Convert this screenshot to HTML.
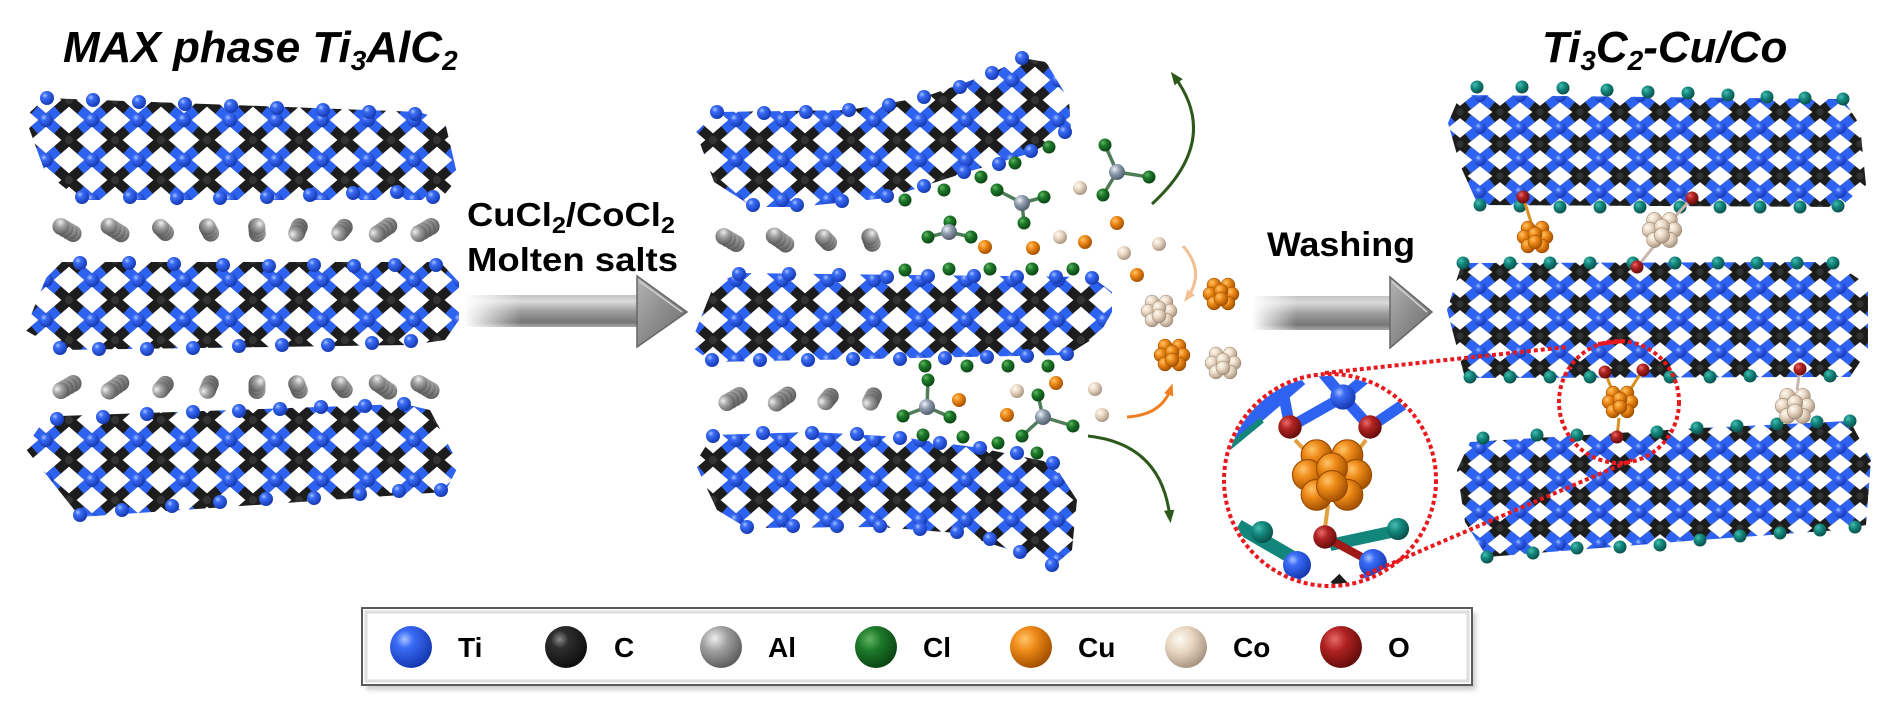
<!DOCTYPE html>
<html><head><meta charset="utf-8">
<style>html,body{margin:0;padding:0;background:#fff;width:1890px;height:711px;overflow:hidden}svg{display:block}</style>
</head><body>
<svg xmlns="http://www.w3.org/2000/svg" width="1890" height="711" viewBox="0 0 1890 711">
<defs>
<radialGradient id="gTi" cx="0.35" cy="0.32" r="0.7"><stop offset="0" stop-color="#a8c2ff"/><stop offset="0.3" stop-color="#3a6cf6"/><stop offset="1" stop-color="#1538b0"/></radialGradient>
<radialGradient id="gC" cx="0.35" cy="0.32" r="0.7"><stop offset="0" stop-color="#8a8a8a"/><stop offset="0.3" stop-color="#2e2e2e"/><stop offset="1" stop-color="#0e0e0e"/></radialGradient>
<radialGradient id="gAl" cx="0.35" cy="0.3" r="0.75"><stop offset="0" stop-color="#eeeeee"/><stop offset="0.4" stop-color="#a0a0a0"/><stop offset="1" stop-color="#585858"/></radialGradient>
<radialGradient id="gCl" cx="0.35" cy="0.32" r="0.7"><stop offset="0" stop-color="#62b462"/><stop offset="0.4" stop-color="#1d7a2a"/><stop offset="1" stop-color="#0b4513"/></radialGradient>
<radialGradient id="gCu" cx="0.35" cy="0.32" r="0.7"><stop offset="0" stop-color="#ffc46a"/><stop offset="0.4" stop-color="#ee8a18"/><stop offset="1" stop-color="#a35000"/></radialGradient>
<radialGradient id="gCo" cx="0.35" cy="0.32" r="0.7"><stop offset="0" stop-color="#fffaf2"/><stop offset="0.45" stop-color="#e8d6c2"/><stop offset="1" stop-color="#a89482"/></radialGradient>
<radialGradient id="gO" cx="0.35" cy="0.32" r="0.7"><stop offset="0" stop-color="#e86a6a"/><stop offset="0.4" stop-color="#b02222"/><stop offset="1" stop-color="#650c0c"/></radialGradient>
<radialGradient id="gTeal" cx="0.35" cy="0.32" r="0.7"><stop offset="0" stop-color="#48bcb2"/><stop offset="0.45" stop-color="#13867c"/><stop offset="1" stop-color="#0a504a"/></radialGradient>
<radialGradient id="gAlCl" cx="0.35" cy="0.32" r="0.7"><stop offset="0" stop-color="#eef2f8"/><stop offset="0.45" stop-color="#8d9bad"/><stop offset="1" stop-color="#525d6b"/></radialGradient>

<pattern id="pL" width="46" height="40" patternUnits="userSpaceOnUse">
<g fill="none" stroke-width="10">
<path stroke="#1d1d1d" d="M0,0 L46,40 M46,0 L0,40"/>
<path stroke="#2e62f0" d="M0,0 L11.5,10 M46,0 L34.5,10 M0,40 L11.5,30 M46,40 L34.5,30"/>
</g>
<circle cx="0" cy="0" r="7" fill="url(#gTi)"/><circle cx="46" cy="0" r="7" fill="url(#gTi)"/>
<circle cx="0" cy="40" r="7" fill="url(#gTi)"/><circle cx="46" cy="40" r="7" fill="url(#gTi)"/>
<circle cx="23" cy="20" r="4" fill="#333"/>
</pattern>
<pattern id="pR" width="40" height="32" patternUnits="userSpaceOnUse">
<g fill="none" stroke-width="9.5">
<path stroke="#1d1d1d" d="M0,0 L40,32 M40,0 L0,32"/>
<path stroke="#2e62f0" d="M0,0 L12,9.6 M40,0 L28,9.6 M0,32 L12,22.4 M40,32 L28,22.4"/>
</g>
<circle cx="0" cy="0" r="6" fill="url(#gTi)"/><circle cx="40" cy="0" r="6" fill="url(#gTi)"/>
<circle cx="0" cy="32" r="6" fill="url(#gTi)"/><circle cx="40" cy="32" r="6" fill="url(#gTi)"/>
<circle cx="20" cy="16" r="3.5" fill="#333"/>
</pattern>

<circle id="ti" r="7" fill="url(#gTi)"/>
<circle id="te" r="6.5" fill="url(#gTeal)"/>
<circle id="cl" r="6.5" fill="url(#gCl)"/>
<circle id="cu" r="7" fill="url(#gCu)"/>
<circle id="co" r="7" fill="url(#gCo)"/>
<circle id="ox" r="6.5" fill="url(#gO)"/>
<g id="al3" fill="url(#gAl)"><circle cx="7" cy="0" r="8.5"/><circle cx="2.5" cy="0" r="8.5"/><circle cx="-2.5" cy="0" r="8.5"/><circle cx="-7" cy="0" r="8.5"/></g>
<g id="al2" fill="url(#gAl)"><circle cx="3.5" cy="0" r="8.5"/><circle cx="0" cy="0" r="8.5"/><circle cx="-3.5" cy="0" r="8.5"/></g>

<g id="cuC" stroke="#9a4a00" stroke-width="0.5" fill="url(#gCu)">
<circle cx="-7" cy="-9" r="7"/><circle cx="7" cy="-9" r="7"/><circle cx="-11" cy="0" r="7"/><circle cx="11" cy="0" r="7"/>
<circle cx="-7" cy="9" r="7"/><circle cx="7" cy="9" r="7"/><circle cx="0" cy="-3" r="7"/><circle cx="0" cy="5" r="7"/>
</g>
<g id="coC" stroke="#9a8570" stroke-width="0.5" fill="url(#gCo)">
<circle cx="-7" cy="-9" r="7"/><circle cx="7" cy="-9" r="7"/><circle cx="-11" cy="0" r="7"/><circle cx="11" cy="0" r="7"/>
<circle cx="-7" cy="9" r="7"/><circle cx="7" cy="9" r="7"/><circle cx="0" cy="-3" r="7"/><circle cx="0" cy="5" r="7"/>
</g>

<linearGradient id="gShaft" x1="0" y1="0" x2="0" y2="1">
<stop offset="0" stop-color="#c4c4c4"/><stop offset="0.2" stop-color="#dadada"/><stop offset="0.5" stop-color="#a0a0a0"/><stop offset="0.85" stop-color="#767676"/><stop offset="1" stop-color="#a8a8a8"/>
</linearGradient>
<linearGradient id="gHead" x1="0" y1="0" x2="1" y2="1">
<stop offset="0" stop-color="#b4b4b4"/><stop offset="0.5" stop-color="#8c8c8c"/><stop offset="1" stop-color="#6a6a6a"/>
</linearGradient>
<linearGradient id="fade" x1="0" y1="0" x2="1" y2="0">
<stop offset="0" stop-color="#fff" stop-opacity="0"/><stop offset="0.3" stop-color="#fff" stop-opacity="1"/><stop offset="1" stop-color="#fff" stop-opacity="1"/>
</linearGradient>
<mask id="m1" maskUnits="userSpaceOnUse" x="0" y="0" width="1890" height="711"><rect x="464" y="285" width="190" height="60" fill="url(#fade)"/></mask>
<mask id="m2" maskUnits="userSpaceOnUse" x="0" y="0" width="1890" height="711"><rect x="1252" y="288" width="148" height="50" fill="url(#fade)"/></mask>

<marker id="mGreen" viewBox="0 0 10 10" refX="6" refY="5" markerWidth="13" markerHeight="13" orient="auto" markerUnits="userSpaceOnUse"><path d="M0,1 L10,5 L0,9 z" fill="#2d5a1c"/></marker>
<marker id="mPeach" viewBox="0 0 10 10" refX="6" refY="5" markerWidth="12" markerHeight="12" orient="auto" markerUnits="userSpaceOnUse"><path d="M0,1 L10,5 L0,9 z" fill="#f2be92"/></marker>
<marker id="mOrange" viewBox="0 0 10 10" refX="6" refY="5" markerWidth="12" markerHeight="12" orient="auto" markerUnits="userSpaceOnUse"><path d="M0,1 L10,5 L0,9 z" fill="#ee7f22"/></marker>

<clipPath id="lensClip"><circle cx="1330" cy="480" r="104"/></clipPath>
<filter id="blur" x="-5%" y="-20%" width="110%" height="140%"><feGaussianBlur stdDeviation="2.5"/></filter>
</defs>

<rect width="1890" height="711" fill="#fff"/>

<!-- ===== LEFT GROUP ===== -->
<path d="M25,117 L45,98 L420,112 L445,122 L458,178 L440,200 L80,200 L45,172 Z" fill="url(#pL)"/>
<path d="M46,278 L62,262 L440,262 L459,282 L459,320 L445,340 L411,345 L60,350 L25,330 Z" fill="url(#pL)"/>
<path d="M44,420 L60,416 L404,404 L430,410 L459,465 L445,492 L80,517 L25,448 Z" fill="url(#pL)"/>
<g>
<use href="#ti" x="47" y="98"/><use href="#ti" x="93" y="100"/><use href="#ti" x="139" y="102"/><use href="#ti" x="185" y="104"/><use href="#ti" x="231" y="106"/><use href="#ti" x="277" y="108"/><use href="#ti" x="323" y="110"/><use href="#ti" x="369" y="112"/><use href="#ti" x="415" y="114"/>
<use href="#ti" x="82" y="197"/><use href="#ti" x="130" y="197"/><use href="#ti" x="177" y="198"/><use href="#ti" x="220" y="198"/><use href="#ti" x="267" y="197"/><use href="#ti" x="310" y="195"/><use href="#ti" x="353" y="193"/><use href="#ti" x="397" y="192"/><use href="#ti" x="433" y="197"/>
<use href="#ti" x="80" y="263"/><use href="#ti" x="129" y="263"/><use href="#ti" x="174" y="264"/><use href="#ti" x="223" y="265"/><use href="#ti" x="269" y="266"/><use href="#ti" x="314" y="265"/><use href="#ti" x="354" y="266"/><use href="#ti" x="395" y="265"/><use href="#ti" x="436" y="265"/>
<use href="#ti" x="60" y="348"/><use href="#ti" x="99" y="349"/><use href="#ti" x="147" y="349"/><use href="#ti" x="193" y="348"/><use href="#ti" x="239" y="346"/><use href="#ti" x="282" y="345"/><use href="#ti" x="328" y="345"/><use href="#ti" x="372" y="343"/><use href="#ti" x="411" y="341"/>
<use href="#ti" x="57" y="419"/><use href="#ti" x="103" y="417"/><use href="#ti" x="147" y="414"/><use href="#ti" x="193" y="412"/><use href="#ti" x="239" y="411"/><use href="#ti" x="280" y="409"/><use href="#ti" x="321" y="407"/><use href="#ti" x="365" y="406"/><use href="#ti" x="404" y="404"/>
<use href="#ti" x="80" y="515"/><use href="#ti" x="122" y="510"/><use href="#ti" x="172" y="506"/><use href="#ti" x="220" y="502"/><use href="#ti" x="266" y="499"/><use href="#ti" x="314" y="498"/><use href="#ti" x="360" y="494"/><use href="#ti" x="399" y="491"/><use href="#ti" x="441" y="490"/>
</g>
<!-- Al rows -->
<g>
<use href="#al3" transform="translate(67,230) rotate(30)"/>
<use href="#al3" transform="translate(115,230) rotate(32)"/>
<use href="#al2" transform="translate(163,230) rotate(45)"/>
<use href="#al2" transform="translate(209,230) rotate(62)"/>
<use href="#al2" transform="translate(257,230) rotate(85)"/>
<use href="#al2" transform="translate(298,230) rotate(-68)"/>
<use href="#al2" transform="translate(342,230) rotate(-50)"/>
<use href="#al3" transform="translate(383,230) rotate(-35)"/>
<use href="#al3" transform="translate(425,230) rotate(-30)"/>
<use href="#al3" transform="translate(67,387) rotate(-30)"/>
<use href="#al3" transform="translate(115,387) rotate(-35)"/>
<use href="#al2" transform="translate(163,387) rotate(-50)"/>
<use href="#al2" transform="translate(209,387) rotate(-68)"/>
<use href="#al2" transform="translate(257,387) rotate(90)"/>
<use href="#al2" transform="translate(298,387) rotate(68)"/>
<use href="#al2" transform="translate(342,387) rotate(50)"/>
<use href="#al3" transform="translate(383,387) rotate(35)"/>
<use href="#al3" transform="translate(425,387) rotate(30)"/>
<use href="#al3" transform="translate(730,240) rotate(30)"/>
<use href="#al3" transform="translate(780,240) rotate(35)"/>
<use href="#al2" transform="translate(826,240) rotate(45)"/>
<use href="#al2" transform="translate(871,240) rotate(70)"/>
<use href="#al3" transform="translate(733,399) rotate(-30)"/>
<use href="#al3" transform="translate(782,399) rotate(-35)"/>
<use href="#al2" transform="translate(828,399) rotate(-50)"/>
<use href="#al2" transform="translate(872,399) rotate(-65)"/>
</g>

<!-- Title left -->
<text x="63" y="62" font-family="'Liberation Sans', Arial, sans-serif" font-weight="bold" font-style="italic" font-size="44" fill="#000">MAX phase Ti<tspan font-size="28" dy="8">3</tspan><tspan dy="-8">AlC</tspan><tspan font-size="28" dy="8">2</tspan></text>

<!-- Arrow 1 -->
<text x="467" y="226" font-family="'Liberation Sans', Arial, sans-serif" font-weight="bold" font-size="33" fill="#000" textLength="208" lengthAdjust="spacingAndGlyphs">CuCl<tspan font-size="23" dy="7">2</tspan><tspan dy="-7">/CoCl</tspan><tspan font-size="23" dy="7">2</tspan></text>
<text x="467" y="271" font-family="'Liberation Sans', Arial, sans-serif" font-weight="bold" font-size="33" fill="#000" textLength="211" lengthAdjust="spacingAndGlyphs">Molten salts</text>
<g mask="url(#m1)"><rect x="464" y="295" width="175" height="32" fill="url(#gShaft)"/></g>
<path d="M637,276 L687,312 L637,347 Z" fill="url(#gHead)" stroke="#666" stroke-width="1.5"/>
<path d="M639,281 L682,312" stroke="#d0d0d0" stroke-width="1.5"/>

<!-- ===== MIDDLE GROUP ===== -->
<path d="M696,132 L717,112 L849,110 L924,97 L992,73 L1022,58 L1046,62 L1069,100 L1071,130 L1031,153 L964,173 L887,198 L797,207 L753,207 L714,182 Z" fill="url(#pL)"/>
<path d="M692,340 L714,285 L739,273 L1092,277 L1112,292 L1112,312 L1099,335 L1067,355 L712,362 L693,348 Z" fill="url(#pL)"/>
<path d="M695,463 L713,435 L812,432 L900,437 L980,448 L1053,463 L1077,500 L1072,550 L1052,567 L1020,553 L957,533 L880,527 L747,528 L717,510 Z" fill="url(#pL)"/>
<g>
<use href="#ti" x="717" y="112"/><use href="#ti" x="764" y="113"/><use href="#ti" x="806" y="112"/><use href="#ti" x="849" y="110"/><use href="#ti" x="889" y="105"/><use href="#ti" x="924" y="97"/><use href="#ti" x="960" y="87"/><use href="#ti" x="992" y="73"/><use href="#ti" x="1022" y="58"/>
<use href="#ti" x="753" y="205"/><use href="#ti" x="797" y="205"/><use href="#ti" x="842" y="201"/><use href="#ti" x="887" y="196"/><use href="#ti" x="924" y="186"/><use href="#ti" x="964" y="172"/><use href="#ti" x="999" y="164"/><use href="#ti" x="1031" y="151"/><use href="#ti" x="1065" y="132"/>
<use href="#ti" x="739" y="274"/><use href="#ti" x="789" y="274"/><use href="#ti" x="839" y="275"/><use href="#ti" x="887" y="277"/><use href="#ti" x="928" y="276"/><use href="#ti" x="974" y="276"/><use href="#ti" x="1017" y="277"/><use href="#ti" x="1056" y="277"/><use href="#ti" x="1092" y="278"/>
<use href="#ti" x="712" y="360"/><use href="#ti" x="760" y="360"/><use href="#ti" x="808" y="360"/><use href="#ti" x="853" y="359"/><use href="#ti" x="900" y="359"/><use href="#ti" x="945" y="358"/><use href="#ti" x="987" y="357"/><use href="#ti" x="1027" y="356"/><use href="#ti" x="1067" y="354"/>
<use href="#ti" x="713" y="436"/><use href="#ti" x="763" y="433"/><use href="#ti" x="812" y="433"/><use href="#ti" x="857" y="434"/><use href="#ti" x="900" y="438"/><use href="#ti" x="940" y="443"/><use href="#ti" x="980" y="448"/><use href="#ti" x="1017" y="453"/><use href="#ti" x="1053" y="463"/>
<use href="#ti" x="747" y="527"/><use href="#ti" x="793" y="526"/><use href="#ti" x="837" y="526"/><use href="#ti" x="880" y="526"/><use href="#ti" x="920" y="529"/><use href="#ti" x="957" y="532"/><use href="#ti" x="990" y="539"/><use href="#ti" x="1020" y="552"/><use href="#ti" x="1052" y="565"/>
</g>

<!-- AlCl4 molecules -->
<g stroke="#4f7d58" stroke-width="3.5">
<path d="M949,232 L928,237 M949,232 L971,237 M949,232 L950,222"/>
<path d="M1022,203 L997,190 M1022,203 L1044,197 M1022,203 L1024,223"/>
<path d="M1117,172 L1105,145 M1117,172 L1103,195 M1117,172 L1149,177"/>
<path d="M927,407 L928,380 M927,407 L903,416 M927,407 L950,417"/>
<path d="M1043,417 L1038,395 M1043,417 L1073,426 M1043,417 L1022,436"/>
</g>
<g>
<use href="#cl" x="950" y="222"/><use href="#cl" x="928" y="237"/><use href="#cl" x="971" y="237"/>
<use href="#cl" x="997" y="190"/><use href="#cl" x="1044" y="197"/><use href="#cl" x="1024" y="223"/>
<use href="#cl" x="1105" y="145"/><use href="#cl" x="1103" y="195"/><use href="#cl" x="1149" y="177"/>
<use href="#cl" x="928" y="380"/><use href="#cl" x="903" y="416"/><use href="#cl" x="950" y="417"/>
<use href="#cl" x="1038" y="395"/><use href="#cl" x="1073" y="426"/><use href="#cl" x="1022" y="436"/>
</g>
<g fill="url(#gAlCl)">
<circle cx="949" cy="232" r="8"/><circle cx="1022" cy="203" r="8"/><circle cx="1117" cy="172" r="8"/><circle cx="927" cy="407" r="8"/><circle cx="1043" cy="417" r="8"/>
</g>
<!-- free Cl -->
<g>
<use href="#cl" x="905" y="200"/><use href="#cl" x="944" y="190"/><use href="#cl" x="981" y="177"/><use href="#cl" x="1015" y="163"/><use href="#cl" x="1049" y="147"/>
<use href="#cl" x="905" y="270"/><use href="#cl" x="949" y="269"/><use href="#cl" x="990" y="269"/><use href="#cl" x="1032" y="269"/><use href="#cl" x="1073" y="269"/>
<use href="#cl" x="925" y="366"/><use href="#cl" x="967" y="366"/><use href="#cl" x="1008" y="366"/><use href="#cl" x="1048" y="366"/>
<use href="#cl" x="923" y="435"/><use href="#cl" x="963" y="437"/><use href="#cl" x="998" y="443"/><use href="#cl" x="1037" y="453"/>
</g>
<!-- free Cu / Co -->
<g>
<use href="#cu" x="985" y="247"/><use href="#cu" x="1033" y="248"/><use href="#cu" x="1085" y="242"/><use href="#cu" x="1117" y="223"/><use href="#cu" x="1137" y="275"/>
<use href="#cu" x="959" y="400"/><use href="#cu" x="1056" y="383"/><use href="#cu" x="1007" y="415"/>
<use href="#co" x="1080" y="188"/><use href="#co" x="1060" y="237"/><use href="#co" x="1124" y="253"/><use href="#co" x="1159" y="244"/>
<use href="#co" x="1017" y="391"/><use href="#co" x="1095" y="389"/><use href="#co" x="1102" y="415"/>
</g>
<!-- clusters middle -->
<use href="#cuC" transform="translate(1221,294)"/>
<use href="#coC" transform="translate(1159,311)"/>
<use href="#cuC" transform="translate(1172,355)"/>
<use href="#coC" transform="translate(1223,363)"/>

<!-- curved arrows -->
<path d="M1152,204 Q1222,140 1174,76" fill="none" stroke="#2d5a1c" stroke-width="3" marker-end="url(#mGreen)"/>
<path d="M1183,246 Q1206,272 1187,298" fill="none" stroke="#f2be92" stroke-width="3" marker-end="url(#mPeach)"/>
<path d="M1127,417 Q1162,415 1171,388" fill="none" stroke="#ee7f22" stroke-width="3" marker-end="url(#mOrange)"/>
<path d="M1088,436 Q1162,444 1170,518" fill="none" stroke="#2d5a1c" stroke-width="3" marker-end="url(#mGreen)"/>

<!-- Washing arrow -->
<text x="1267" y="256" font-family="'Liberation Sans', Arial, sans-serif" font-weight="bold" font-size="34" fill="#000" textLength="148" lengthAdjust="spacingAndGlyphs">Washing</text>
<g mask="url(#m2)"><rect x="1252" y="296" width="142" height="34" fill="url(#gShaft)"/></g>
<path d="M1390,277 L1432,312 L1390,348 Z" fill="url(#gHead)" stroke="#666" stroke-width="1.5"/>
<path d="M1392,282 L1427,312" stroke="#d0d0d0" stroke-width="1.5"/>

<!-- ===== RIGHT GROUP ===== -->
<text x="1542" y="62" font-family="'Liberation Sans', Arial, sans-serif" font-weight="bold" font-style="italic" font-size="44" fill="#000">Ti<tspan font-size="28" dy="8">3</tspan><tspan dy="-8">C</tspan><tspan font-size="28" dy="8">2</tspan><tspan dy="-8">-Cu/Co</tspan></text>

<path d="M1448,123 L1460,95 L1843,99 L1860,125 L1866,185 L1840,207 L1478,205 L1460,165 Z" fill="url(#pR)"/>
<path d="M1447,310 L1462,263 L1833,262 L1868,285 L1868,350 L1850,377 L1465,378 Z" fill="url(#pR)"/>
<path d="M1457,470 L1470,442 L1700,428 L1850,421 L1871,460 L1866,525 L1840,530 L1700,540 L1487,557 L1465,522 Z" fill="url(#pR)"/>
<g>
<use href="#te" x="1477" y="87"/><use href="#te" x="1522" y="87"/><use href="#te" x="1563" y="88"/><use href="#te" x="1607" y="90"/><use href="#te" x="1648" y="92"/><use href="#te" x="1688" y="93"/><use href="#te" x="1728" y="95"/><use href="#te" x="1767" y="97"/><use href="#te" x="1805" y="98"/><use href="#te" x="1843" y="99"/>
<use href="#te" x="1480" y="205"/><use href="#te" x="1520" y="206"/><use href="#te" x="1560" y="207"/><use href="#te" x="1600" y="207"/><use href="#te" x="1640" y="207"/><use href="#te" x="1680" y="207"/><use href="#te" x="1720" y="207"/><use href="#te" x="1760" y="207"/><use href="#te" x="1800" y="207"/><use href="#te" x="1838" y="206"/>
<use href="#te" x="1463" y="263"/><use href="#te" x="1510" y="263"/><use href="#te" x="1550" y="263"/><use href="#te" x="1590" y="263"/><use href="#te" x="1633" y="263"/><use href="#te" x="1675" y="263"/><use href="#te" x="1718" y="263"/><use href="#te" x="1757" y="263"/><use href="#te" x="1797" y="263"/><use href="#te" x="1833" y="263"/>
<use href="#te" x="1470" y="377"/><use href="#te" x="1510" y="377"/><use href="#te" x="1550" y="377"/><use href="#te" x="1590" y="377"/><use href="#te" x="1670" y="377"/><use href="#te" x="1710" y="377"/><use href="#te" x="1750" y="376"/><use href="#te" x="1830" y="376"/>
<use href="#te" x="1483" y="438"/><use href="#te" x="1537" y="435"/><use href="#te" x="1577" y="435"/><use href="#te" x="1657" y="432"/><use href="#te" x="1697" y="428"/><use href="#te" x="1737" y="426"/><use href="#te" x="1777" y="424"/><use href="#te" x="1817" y="422"/><use href="#te" x="1850" y="421"/>
<use href="#te" x="1487" y="557"/><use href="#te" x="1533" y="553"/><use href="#te" x="1577" y="548"/><use href="#te" x="1620" y="547"/><use href="#te" x="1660" y="545"/><use href="#te" x="1700" y="540"/><use href="#te" x="1740" y="536"/><use href="#te" x="1780" y="533"/><use href="#te" x="1820" y="530"/><use href="#te" x="1855" y="527"/>
</g>
<!-- O bonds and clusters right -->
<g stroke-width="3">
<path d="M1523,197 L1531,222" stroke="#d89020"/>
<path d="M1692,198 L1672,220" stroke="#c8b4ac"/>
<path d="M1637,267 L1655,245" stroke="#c8b8b0"/>
<path d="M1605,372 L1612,390 M1643,370 L1630,390" stroke="#d89020"/>
<path d="M1617,437 L1619,418" stroke="#d89020"/>
<path d="M1800,369 L1797,390" stroke="#c8b8b0"/>
</g>
<use href="#cuC" transform="translate(1535,237)"/>
<use href="#coC" transform="translate(1662,230) scale(1.1)"/>
<use href="#cuC" transform="translate(1620,402)"/>
<use href="#coC" transform="translate(1795,406) scale(1.1)"/>
<g>
<use href="#ox" x="1523" y="197"/><use href="#ox" x="1692" y="198"/><use href="#ox" x="1637" y="267"/>
<use href="#ox" x="1605" y="372"/><use href="#ox" x="1643" y="370"/><use href="#ox" x="1617" y="437"/><use href="#ox" x="1800" y="369"/>
</g>

<!-- Lens -->
<circle cx="1330" cy="480" r="104" fill="#fff"/>
<g clip-path="url(#lensClip)">
<path d="M1222,445 L1300,378" stroke="#2e62f0" stroke-width="16"/>
<path d="M1228,448 L1262,420" stroke="#13867c" stroke-width="6"/>
<path d="M1300,372 L1322,372" stroke="#1d1d1d" stroke-width="10"/>
<g stroke="#2e62f0" stroke-width="11">
<path d="M1290,427 L1283,392"/>
<path d="M1343,397 L1290,427"/>
<path d="M1343,397 L1370,427"/>
<path d="M1343,397 L1322,372"/>
<path d="M1343,397 L1368,376"/>
<path d="M1370,427 L1410,400"/>
</g>
<use href="#ti" transform="translate(1343,397) scale(1.8)"/>
<use href="#ox" transform="translate(1290,427) scale(1.8)"/>
<use href="#ox" transform="translate(1370,427) scale(1.8)"/>
<path d="M1295,440 L1312,458 M1366,440 L1352,458 M1328,505 L1325,528" stroke="#e0a040" stroke-width="4"/>
<use href="#cuC" transform="translate(1332,475) scale(2.2)"/>
<path d="M1238,526 L1300,562" stroke="#13867c" stroke-width="14"/>
<path d="M1330,545 L1400,530" stroke="#13867c" stroke-width="12"/>
<path d="M1297,565 L1290,600 M1373,563 L1365,600" stroke="#2e62f0" stroke-width="14"/>
<path d="M1335,578 L1352,596" stroke="#1d1d1d" stroke-width="12"/>
<path d="M1325,537 L1373,563" stroke="#a01818" stroke-width="8"/>
<use href="#te" transform="translate(1262,532) scale(1.7)"/>
<use href="#te" transform="translate(1398,529) scale(1.7)"/>
<use href="#ox" transform="translate(1325,537) scale(1.8)"/>
<use href="#ti" transform="translate(1297,565) scale(2)"/>
<use href="#ti" transform="translate(1373,563) scale(2)"/>
</g>
<g fill="none" stroke="#e8191e" stroke-width="4" stroke-dasharray="4 3">
<circle cx="1330" cy="480" r="106"/>
<ellipse cx="1619" cy="402" rx="60" ry="61"/>
<path d="M1325,373 L1567,347"/>
<path d="M1360,577 L1632,460"/>
</g>
<path d="M1598,344 L1624,341" stroke="#e8191e" stroke-width="4"/>

<!-- ===== LEGEND ===== -->
<rect x="366" y="613" width="1110" height="77" fill="#cfcfcf" filter="url(#blur)"/>
<rect x="362" y="608" width="1110" height="77" fill="#fff" stroke="#5a5a5a" stroke-width="2"/>
<rect x="366" y="612" width="1102" height="69" fill="none" stroke="#dedede" stroke-width="3"/>
<g>
<circle cx="411" cy="647" r="21" fill="url(#gTi)"/>
<circle cx="566" cy="647" r="21" fill="url(#gC)"/>
<circle cx="721" cy="647" r="21" fill="url(#gAl)"/>
<circle cx="876" cy="647" r="21" fill="url(#gCl)"/>
<circle cx="1031" cy="647" r="21" fill="url(#gCu)"/>
<circle cx="1186" cy="647" r="21" fill="url(#gCo)"/>
<circle cx="1341" cy="647" r="21" fill="url(#gO)"/>
</g>
<g font-family="'Liberation Sans', Arial, sans-serif" font-weight="bold" font-size="28" fill="#000">
<text x="458" y="657">Ti</text>
<text x="614" y="657">C</text>
<text x="768" y="657">Al</text>
<text x="923" y="657">Cl</text>
<text x="1078" y="657">Cu</text>
<text x="1233" y="657">Co</text>
<text x="1388" y="657">O</text>
</g>
</svg>
</body></html>
